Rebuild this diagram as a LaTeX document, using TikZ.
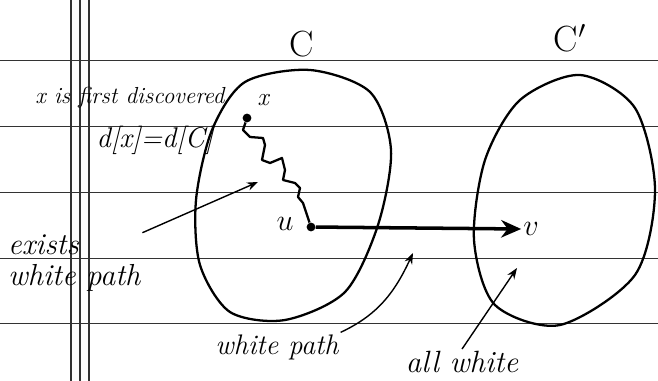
\documentclass[tikz,border=0pt]{standalone}
\usepackage{tikz}
\usetikzlibrary{arrows.meta,positioning}

\begin{document}
\begin{tikzpicture}[
    x=0.02cm, y=-0.02cm,
    rule/.style={black!80, line width=0.5pt},
    blob/.style={draw, line width=1.3pt},
    vdot/.style={circle, fill, inner sep=0pt, minimum size=5pt},
    hand/.style={font=\itshape\large, inner sep=1pt},
    big/.style={font=\huge, inner sep=1pt},
    note/.style={-{Stealth[length=2.2mm]}, line width=0.8pt},
    edge/.style={-{Stealth[length=4mm, width=3.5mm]}, line width=2pt}
  ]
    \useasboundingbox (0,0) rectangle (658,381);
    % ruled paper
    \foreach \yy in {60,126,192,258,323}
      \draw[rule] (0,\yy) -- (658,\yy);
    \foreach \xx in {71,80,89}
      \draw[rule, line width=0.8pt] (\xx,0) -- (\xx,381);

    % the two components
    \draw[blob] plot[smooth cycle] coordinates {
      (310,70) (370,92) (391,150) (378,225) (345,292) (285,320)
      (230,312) (200,265) (196,200) (212,130) (245,82)};
    \draw[blob] plot[smooth cycle] coordinates {
      (580,75) (635,108) (655,190) (635,275) (560,325) (495,305)
      (474,240) (485,160) (520,100)};
    \node[big] (clbl) at (302,44) {C};
    \node[big] (cplbl) at (570,38) {C$'$};

    % vertices
    \node[vdot] (x) at (247,118) {};
    \node[vdot] (u) at (311,227) {};
    \node[hand, font=\Large\itshape] (xlbl) at (263,100) {x};
    \node[big, font=\LARGE] (ulbl) at (285,224) {$u$};
    \node[big, font=\LARGE] (vlbl) at (531,229) {$v$};

    % white path x ~> u
    \draw[line width=1.3pt, line join=round] (x) -- (243,130) -- (250,137)
      -- (263,138) -- (265,145) -- (262,160) -- (270,163) -- (282,158)
      -- (285,170) -- (283,180) -- (295,183) -- (300,188) -- (298,197)
      -- (303,203) -- (307,215) -- (u);
    \draw[edge] (u) -- (vlbl.west);

    % notes
    \node[hand, font=\itshape\fontsize{13.2}{15}\selectfont] (first) at (130,98) {x is first discovered};
    \node[hand, font=\itshape\fontsize{16.2}{18}\selectfont] (dval) at (155,140) {d[x]=d[C]};
    \node[hand, font=\itshape\fontsize{17.3}{17.5}\selectfont, align=left, anchor=west]
      (exists) at (6,263) {exists\\white path};
    \node[hand, font=\itshape\fontsize{16.1}{18}\selectfont] (wpath) at (277,347) {white path};
    \node[hand, font=\itshape\fontsize{17.5}{19}\selectfont] (allw) at (462,362) {all white};

    \coordinate (inC) at (258,182);
    \coordinate (gap) at (413,253);
    \coordinate (inCp) at (517,268);
    \draw[note] (exists.north east) -- (inC);
    \draw[note] (wpath.north east) to[out=25,in=-115] (gap);
    \draw[note] (allw.north) -- (inCp);
\end{tikzpicture}
\end{document}
